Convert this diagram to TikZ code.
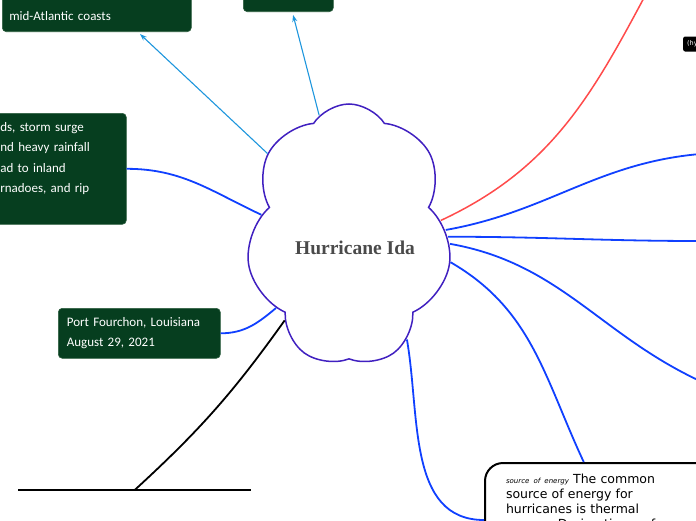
\documentclass[tikz,border=0pt]{standalone}
\usepackage{fontspec}
\setmainfont{Liberation Serif}
\newfontfamily\handfont{Carlito}
\newfontfamily\notefont{DejaVu Sans}
\usepackage{xcolor}
\usepackage{tikz}
\usetikzlibrary{arrows.meta, positioning, shapes.symbols, calc}

\definecolor{idaline}{HTML}{4020C0}
\definecolor{idatext}{HTML}{4A4A4A}
\definecolor{boxgreen}{HTML}{063E1F}
\definecolor{boxedge}{HTML}{2C5E3E}
\definecolor{dotgreen}{HTML}{33CC66}
\definecolor{branchblue}{HTML}{1040FF}
\definecolor{linkblue}{HTML}{1E96DD}
\definecolor{branchred}{HTML}{FF4B4B}

\begin{document}
\begin{tikzpicture}[
    x=1pt, y=1pt,
    idea/.style={
        cloud,
        cloud puffs=7,
        cloud puff arc=115,
        cloud ignores aspect,
        shape border rotate=180,
        draw=idaline,
        line width=1.5pt,
        minimum width=206pt,
        minimum height=262pt,
        text=idatext,
        text height=40pt,
        text depth=2pt,
        font=\bfseries\fontsize{19.5}{21}\selectfont
    },
    greenbox/.style={
        rectangle,
        rounded corners=4pt,
        fill=boxgreen,
        draw=boxedge,
        line width=0.6pt,
        text=white,
        align=left,
        font=\handfont\fontsize{13}{20.5}\selectfont
    },
    notebox/.style={
        rectangle,
        rounded corners=18pt,
        draw=black,
        line width=2pt,
        fill=white,
        align=left,
        font=\notefont\fontsize{12.5}{15}\selectfont
    },
    branch/.style={
        draw=branchblue,
        line width=1.8pt
    },
    linkarrow/.style={
        -{Stealth[length=7pt, width=5pt]},
        draw=linkblue,
        line width=1.1pt,
        shorten >=3pt
    }
]
\useasboundingbox (0,0) rectangle (696,-520);

% Central idea
\node[idea] (ida) at (349,-235) {\hspace*{12pt}Hurricane Ida};

% Green notes
\node[greenbox, anchor=south west, text width=175pt, inner xsep=7pt, inner ysep=8pt,
      text height=40pt, text depth=3pt] (coasts) at (2,-32) {mid-Atlantic coasts};
\node[greenbox, anchor=south west, minimum width=90pt, minimum height=45pt] (cause) at (243,-12) {};
\node[greenbox, anchor=north west, text width=116pt, inner xsep=10pt, inner ysep=6pt,
      text height=12pt, text depth=87pt] (effects) at (-10,-113)
      {ds, storm surge\\nd heavy rainfall\\ad to inland\\rnadoes, and rip};
\node[greenbox, anchor=north west, text width=145pt, inner xsep=8.5pt, minimum height=50pt] (landfall) at (58,-308)
      {Port Fourchon, Louisiana\\August 29, 2021};

% Small markers
\node[circle, fill=dotgreen, minimum size=9pt, inner sep=0pt] (dota) at (199,5) {};
\node[circle, fill=dotgreen, minimum size=9pt, inner sep=0pt] (dotb) at (342,5) {};
\node[anchor=west, fill=black, rounded corners=2pt, text=white, inner xsep=4pt,
      minimum height=15pt, font=\notefont\fontsize{6.5}{7}\selectfont] (hy) at (683,-44) {(hy};

% Lower boxes
\node[anchor=north west, minimum width=233pt, minimum height=30pt] (impact) at (18,-490) {};
\draw[line width=2.8pt] (impact.north west) -- (impact.north east);
\node[notebox, anchor=north west, text width=200pt, inner xsep=21pt, inner ysep=10pt,
      text height=10pt, text depth=84pt] (energy) at (484,-462)
      {{\itshape\fontsize{7}{8}\selectfont source of energy} The common\\source of energy for\\hurricanes is thermal\\energy. During times of};

% Free ends off the page
\coordinate (outa) at (700,-154);
\coordinate (outb) at (700,-241);
\coordinate (outc) at (700,-381);
\coordinate (redtop) at (646,6);

% Arrows
\draw[linkarrow] (ida.135) -- (coasts.-36);
\draw[linkarrow] (ida.104) -- (cause.-80);

% Branches
\draw[branch] (ida.167) to[out=155, in=0] (effects.east);
\draw[branch] (ida.225) to[out=220, in=0] (landfall.east);
\draw[black, line width=1.8pt] (ida.233) to[bend left=6] (impact.north);
\draw[branchred, line width=1.5pt] (ida.9) to[out=25, in=-118] (redtop);
\draw[branch] (ida.3) to[out=10, in=185] (outa);
\draw[branch] (ida.-1) to[out=0, in=180] (outb);
\draw[branch] (ida.-5) to[out=-10, in=155] (outc);
\draw[branch] (ida.-15) to[out=-30, in=115] (energy.111);
\draw[branch] (ida.-61) to[out=-80, in=180] (energy.west);
\end{tikzpicture}
\end{document}
